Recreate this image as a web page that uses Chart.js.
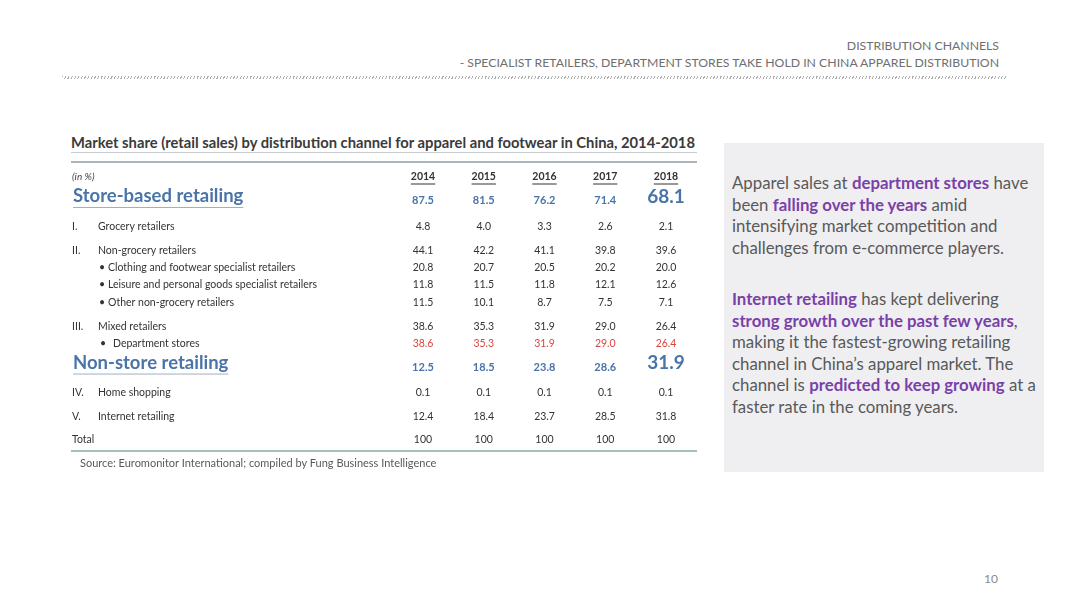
<!DOCTYPE html>
<html>
<head>
<meta charset="utf-8">
<script src="https://cdn.jsdelivr.net/npm/chart.js@4.4.0/dist/chart.umd.min.js"></script>
<style>
  html, body { margin: 0; padding: 0; background: #fff; }
  body { width: 1080px; height: 608px; position: relative; overflow: hidden; font-family: Lato, "Open Sans", sans-serif; }
  .hdr { position: absolute; right: 81px; color: #6f6f6f; font-size: 12.25px; white-space: nowrap; }
  .dots { position: absolute; left: 62px; top: 76px; width: 946px; height: 3px;
    background-image: repeating-linear-gradient(115deg, #9a9a9a 0 1px, transparent 1px 3px); opacity: 0.8; }
  #title { position: absolute; left: 71px; top: 133px; font-weight: bold; font-size: 14.75px; color: #3a3a3a; white-space: nowrap; }
  #source { position: absolute; left: 80px; top: 456px; font-size: 11px; color: #595959; white-space: nowrap; }
  #wrap { position: absolute; left: 60px; top: 130px; width: 650px; height: 350px; }
  .box { position: absolute; left: 724px; top: 143px; width: 320px; height: 329px; background: #efeff1; }
  .para { position: absolute; left: 732px; font-size: 16.8px; line-height: 21.6px; color: #595959; white-space: nowrap; }
  .para b { color: #7a3fa8; }
  #page { position: absolute; left: 984px; top: 571px; font-size: 12px; color: #8a8a8a; }
</style>
</head>
<body>
<div class="hdr" style="top:38px">DISTRIBUTION CHANNELS</div>
<div class="hdr" style="top:55px">- SPECIALIST RETAILERS, DEPARTMENT STORES TAKE HOLD IN CHINA APPAREL DISTRIBUTION</div>
<div class="dots"></div>

<div id="title">Market share (retail sales) by distribution channel for apparel and footwear in China, 2014-2018</div>
<div id="wrap"><canvas id="table" width="650" height="350"></canvas></div>
<div id="source">Source: Euromonitor International; compiled by Fung Business Intelligence</div>

<div class="box"></div>
<div class="para" style="top:172px">Apparel sales at <b>department stores</b> have<br>been <b>falling over the years</b> amid<br>intensifying market competition and<br>challenges from e-commerce players.</div>
<div class="para" style="top:288px"><b>Internet retailing</b> has kept delivering<br><b>strong growth over the past few years</b>,<br>making it the fastest-growing retailing<br>channel in China’s apparel market. The<br>channel is <b>predicted to keep growing</b> at a<br>faster rate in the coming years.</div>
<div id="page">10</div>

<script>
// --- data ---
const years = ['2014', '2015', '2016', '2017', '2018'];
const row_labels = [
  'Store-based retailing',
  'Grocery retailers',
  'Non-grocery retailers',
  'Clothing and footwear specialist retailers',
  'Leisure and personal goods specialist retailers',
  'Other non-grocery retailers',
  'Mixed retailers',
  'Department stores',
  'Non-store retailing',
  'Home shopping',
  'Internet retailing',
  'Total'
];
const row_numerals = ['', 'I.', 'II.', '', '', '', 'III.', '', '', 'IV.', 'V.', ''];
const row_kinds = ['head', 'main', 'main', 'sub', 'sub', 'sub', 'main', 'dept', 'head', 'main', 'main', 'total'];

const store_based   = [87.5, 81.5, 76.2, 71.4, 68.1];
const grocery       = [4.8, 4.0, 3.3, 2.6, 2.1];
const non_grocery   = [44.1, 42.2, 41.1, 39.8, 39.6];
const clothing      = [20.8, 20.7, 20.5, 20.2, 20.0];
const leisure       = [11.8, 11.5, 11.8, 12.1, 12.6];
const other_non_groc = [11.5, 10.1, 8.7, 7.5, 7.1];
const mixed         = [38.6, 35.3, 31.9, 29.0, 26.4];
const department    = [38.6, 35.3, 31.9, 29.0, 26.4];
const non_store     = [12.5, 18.5, 23.8, 28.6, 31.9];
const home_shopping = [0.1, 0.1, 0.1, 0.1, 0.1];
const internet      = [12.4, 18.4, 23.7, 28.5, 31.8];
const totals        = [100, 100, 100, 100, 100];

const series = [store_based, grocery, non_grocery, clothing, leisure, other_non_groc,
                mixed, department, non_store, home_shopping, internet, totals];

// row offsets (in px units of the y scale), header row sits at 0
function row_gap(prev, cur) {
  if (cur === 'head') return 20.5;
  if (prev === 'head') return 29;
  if (cur === 'sub' || cur === 'dept') return 17.3;
  if (cur === 'total') return 23;
  return 24;
}
const row_pos = [];
let acc = 0, prev = 'header';
row_kinds.forEach(k => { acc += row_gap(prev, k); row_pos.push(acc); prev = k; });

const BLUE = '#4a74a8';
const RED = '#d9463f';
const TXT = '#333';
const FONT = 'Lato, "Open Sans", sans-serif';

const datasets = years.map((yr, ci) => ({
  label: yr,
  data: series.map((vals, ri) => ({ x: ci, y: row_pos[ri], v: vals[ci], kind: row_kinds[ri] })),
  pointRadius: 0,
  showLine: false
}));

function fmt(v, kind) { return kind === 'total' ? String(v) : v.toFixed(1); }

function underline(ctx, x, y, w, color, lw) {
  ctx.save();
  ctx.strokeStyle = color; ctx.lineWidth = lw;
  ctx.beginPath(); ctx.moveTo(x, y); ctx.lineTo(x + w, y); ctx.stroke();
  ctx.restore();
}

const tablePlugin = {
  id: 'tableText',
  afterDatasetsDraw(chart) {
    const { ctx, scales: { x, y } } = chart;
    const L = 12; // left edge of the label column
    ctx.save();
    ctx.textBaseline = 'middle';

    // rules at top and bottom
    underline(ctx, 11, 22.5, 626, '#c7ccd0', 1);
    underline(ctx, 11, 32, 626, '#a9b4bb', 2);
    const bottom = y.getPixelForValue(row_pos[row_pos.length - 1]) + 11;
    underline(ctx, 11, bottom, 626, '#a6c1ba', 2);

    // header row
    const hy = y.getPixelForValue(0);
    ctx.fillStyle = '#444';
    ctx.font = 'italic 10px ' + FONT;
    ctx.textAlign = 'left';
    ctx.fillText('(in %)', L, hy);
    ctx.font = 'bold 10.5px ' + FONT;
    ctx.textAlign = 'center';
    ctx.fillStyle = TXT;
    years.forEach((yr, i) => {
      const px = x.getPixelForValue(i);
      ctx.fillText(yr, px, hy);
      const w = ctx.measureText(yr).width;
      underline(ctx, px - w / 2, hy + 7, w, TXT, 1);
    });

    // row labels
    row_labels.forEach((lab, ri) => {
      const k = row_kinds[ri];
      const py = y.getPixelForValue(row_pos[ri]);
      ctx.textAlign = 'left';
      if (k === 'head') {
        ctx.font = 'bold 18.5px ' + FONT;
        ctx.fillStyle = BLUE;
        ctx.fillText(lab, L + 1, py - 1);
        underline(ctx, L + 1, py + 10, ctx.measureText(lab).width, '#9fb0c4', 1);
        return;
      }
      ctx.font = '10.5px ' + FONT;
      ctx.fillStyle = TXT;
      if (k === 'total') { ctx.fillText(lab, L, py); return; }
      if (row_numerals[ri]) ctx.fillText(row_numerals[ri], L, py);
      if (k === 'main') ctx.fillText(lab, L + 26, py);
      if (k === 'sub') { ctx.fillText('\u2022', L + 27, py); ctx.fillText(lab, L + 36, py); }
      if (k === 'dept') { ctx.fillText('\u2022', L + 28, py); ctx.fillText(lab, L + 41, py); }
    });

    // values, placed at each point the scales give
    chart.data.datasets.forEach((ds, di) => {
      const meta = chart.getDatasetMeta(di);
      meta.data.forEach((pt, ri) => {
        const d = ds.data[ri];
        ctx.textAlign = 'center';
        if (d.kind === 'head') {
          ctx.fillStyle = BLUE;
          if (di === years.length - 1) {
            ctx.font = 'bold 19px ' + FONT;
            ctx.fillText(fmt(d.v, d.kind), pt.x, pt.y - 1);
          } else {
            ctx.font = 'bold 11px ' + FONT;
            ctx.fillText(fmt(d.v, d.kind), pt.x, pt.y + 3);
          }
          return;
        }
        ctx.font = '10.5px ' + FONT;
        ctx.fillStyle = d.kind === 'dept' ? RED : TXT;
        ctx.fillText(fmt(d.v, d.kind), pt.x, pt.y);
      });
    });
    ctx.restore();
  }
};

new Chart(document.getElementById('table'), {
  type: 'scatter',
  data: { datasets },
  options: {
    responsive: false,
    maintainAspectRatio: false,
    animation: false,
    events: [],
    layout: { padding: { left: 363, right: 44, top: 47, bottom: 40 } },
    scales: {
      x: { type: 'linear', min: 0, max: years.length - 1, display: false },
      y: { type: 'linear', min: 0, max: row_pos[row_pos.length - 1], reverse: true, display: false }
    },
    plugins: { legend: { display: false }, tooltip: { enabled: false }, title: { display: false } }
  },
  plugins: [tablePlugin]
});
</script>
</body>
</html>
